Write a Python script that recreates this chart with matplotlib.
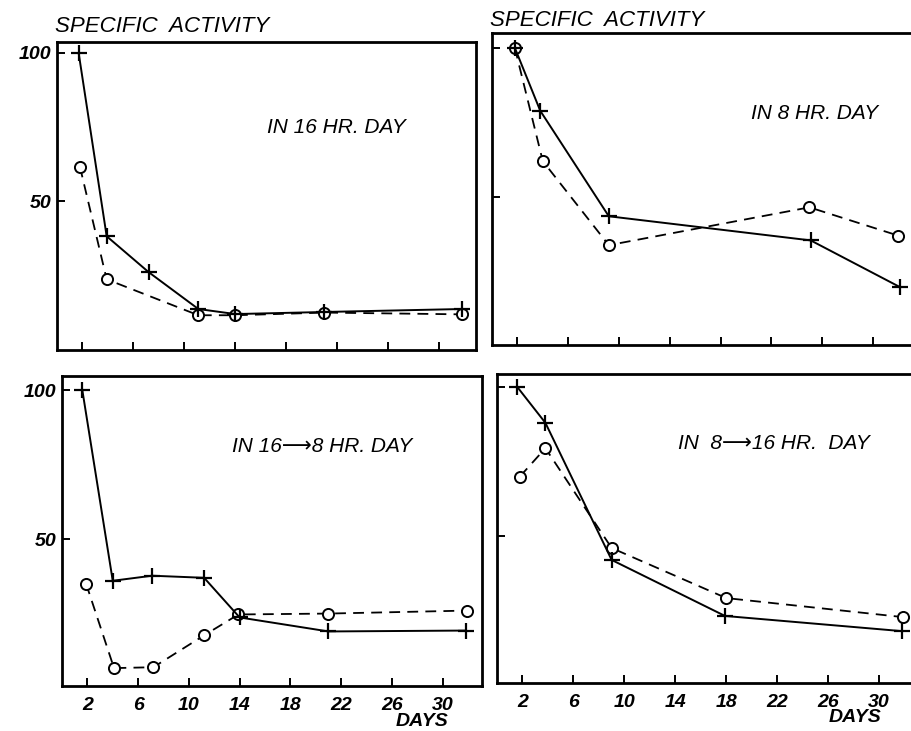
import matplotlib
matplotlib.use("Agg")
import matplotlib.pyplot as plt

plt.rcParams['font.family'] = ['Liberation Sans', 'DejaVu Sans']

# --- data (days, specific activity) ---
days_16_plus = [1.7, 3.9, 7.2, 11.1, 14.0, 21.0, 31.8]
act_16_plus = [100, 38.3, 26.2, 13.8, 12.1, 12.8, 13.8]
days_16_circ = [1.8, 3.9, 11.1, 14.0, 21.0, 31.8]
act_16_circ = [61.7, 23.8, 11.7, 11.7, 12.6, 12.0]

days_8_plus = [1.8, 3.8, 9.2, 25.1, 32.1]
act_8_plus = [100, 78.9, 43.5, 35.4, 19.8]
days_8_circ = [1.8, 4.0, 9.2, 25.0, 32.0]
act_8_circ = [100, 62.0, 33.8, 46.5, 37.0]

days_16to8_plus = [1.6, 4.0, 7.1, 11.2, 14.0, 21.0, 31.8]
act_16to8_plus = [100, 36.0, 37.7, 37.0, 23.7, 19.0, 19.3]
days_16to8_circ = [1.9, 4.1, 7.2, 11.2, 13.9, 21.0, 31.9]
act_16to8_circ = [35.0, 6.7, 7.0, 17.7, 24.7, 25.0, 26.0]

days_8to16_plus = [1.6, 3.8, 9.0, 17.9, 31.8]
act_8to16_plus = [100, 88.0, 42.0, 23.2, 18.1]
days_8to16_circ = [1.8, 3.8, 9.0, 18.0, 31.9]
act_8to16_circ = [70.0, 79.5, 46.0, 29.2, 22.8]

xticks = [2, 6, 10, 14, 18, 22, 26, 30]
yticks = [50, 100]

W, H = 911, 731
fig = plt.figure(figsize=(W / 100, H / 100), dpi=100)


def px_axes(left, right, top, bottom):
    return fig.add_axes([left / W, 1 - bottom / H, (right - left) / W, (bottom - top) / H])


def draw(ax, dp, ap, dc, ac):
    ax.plot(dc, ac, color='black', lw=1.3, ls=(0, (6, 4)), marker='o', ms=8,
            mfc='white', mec='black', mew=1.4, zorder=3)
    ax.plot(dp, ap, color='black', lw=1.4, ls='-', marker='+', ms=12,
            mew=1.6, zorder=4)


def style(ax, xlim, ylim, xlabels, ylabels, open_right=False):
    ax.set_xlim(*xlim)
    ax.set_ylim(*ylim)
    ax.set_xticks(xticks)
    ax.set_yticks(yticks)
    ax.tick_params(direction='in', length=6, width=1.4, colors='black')
    for s in ax.spines.values():
        s.set_linewidth(2.0)
    if open_right:
        ax.spines['right'].set_visible(False)
    if xlabels:
        ax.set_xticklabels([str(t) for t in xticks], fontsize=14, style='italic',
                           weight='bold')
        ax.tick_params(axis='x', pad=8)
    else:
        ax.set_xticklabels([])
    if ylabels:
        ax.set_yticklabels([str(t) for t in yticks], fontsize=14, style='italic',
                           weight='bold')
        ax.tick_params(axis='y', pad=4)
    else:
        ax.set_yticklabels([])


# top-left: 16 hr day
ax1 = px_axes(57, 476, 42, 350)
draw(ax1, days_16_plus, act_16_plus, days_16_circ, act_16_circ)
style(ax1, (0, 32.9), (0, 103.7), False, True)
ax1.text(16.5, 75, 'IN 16 HR. DAY', fontsize=15, style='italic', va='center')
fig.text(55 / W, 1 - 27 / H, 'SPECIFIC  ACTIVITY', fontsize=16, style='italic',
         va='center', ha='left')

# top-right: 8 hr day
ax2 = px_axes(492, 911, 33, 345)
draw(ax2, days_8_plus, act_8_plus, days_8_circ, act_8_circ)
style(ax2, (0, 33.0), (0.3, 105), False, False, open_right=True)
ax2.text(20.4, 78, 'IN 8 HR. DAY', fontsize=15, style='italic', va='center')
fig.text(490 / W, 1 - 20 / H, 'SPECIFIC  ACTIVITY', fontsize=16, style='italic',
         va='center', ha='left')

# bottom-left: 16 -> 8 hr day
ax3 = px_axes(62, 482, 376, 686)
draw(ax3, days_16to8_plus, act_16to8_plus, days_16to8_circ, act_16to8_circ)
style(ax3, (0, 33.1), (0.7, 104.7), True, True)
ax3.text(13.4, 81, 'IN 16\u27f68 HR. DAY', fontsize=15, style='italic', va='center')
fig.text(422 / W, 1 - 722 / H, 'DAYS', fontsize=14, style='italic', weight='bold',
         ha='center', va='center')

# bottom-right: 8 -> 16 hr day
ax4 = px_axes(497, 911, 374, 683)
draw(ax4, days_8to16_plus, act_8to16_plus, days_8to16_circ, act_8to16_circ)
style(ax4, (0, 32.5), (0.7, 104.4), True, False, open_right=True)
ax4.text(14.2, 81, 'IN  8\u27f616 HR.  DAY', fontsize=15, style='italic', va='center')
fig.text(855 / W, 1 - 718 / H, 'DAYS', fontsize=14, style='italic', weight='bold',
         ha='center', va='center')

fig.savefig('out.png', dpi=100)
